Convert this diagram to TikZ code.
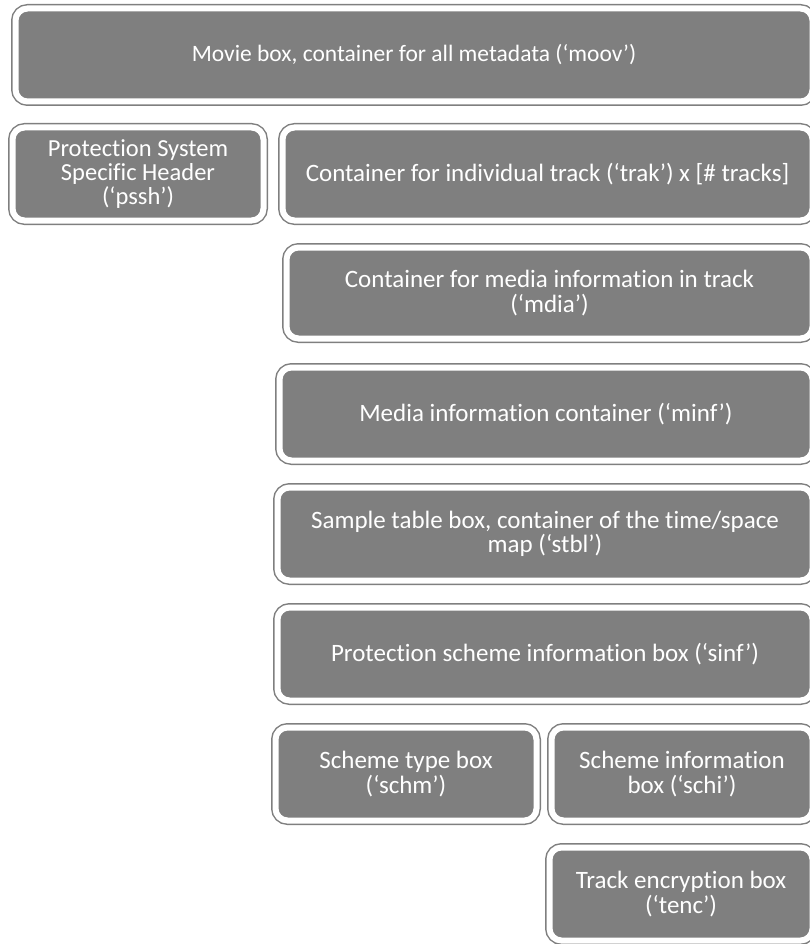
\documentclass[tikz,border=0pt]{standalone}
\usepackage{fontspec}
\setmainfont{Carlito}[Ligatures={NoCommon}]
\usepackage{tikz}
\usetikzlibrary{positioning}
\definecolor{boxgray}{RGB}{127, 127, 127}

\begin{document}
\begin{tikzpicture}[
			x=1pt, y=1pt,
			box/.style={rectangle, fill=boxgray, draw=boxgray, double=white, double distance=6pt, line width=1.5pt, rounded corners=12pt, minimum height=93pt, inner sep=2pt, outer sep=0pt, align=center, text=white, font=\fontsize{25}{24.5}\selectfont}
		]
		\useasboundingbox (0,0) rectangle (810,-944);
		% Movie box
		\node[box, minimum width=797pt, anchor=north west, font=\fontsize{23.5}{24}\selectfont] (moov) at (15.5,-8.5) {Movie box, container for all metadata (‘moov’)};
		
		% Second row
		\node[box, minimum width=251pt, below=26pt of moov.south west, anchor=north west, xshift=-3pt, font=\fontsize{24.5}{24}\selectfont] (pssh) {Protection System\\Specific Header\\(‘pssh’)};
		\node[box, minimum width=530pt, below=26pt of moov.south east, anchor=north east] (trak) {Container for individual track (‘trak’) x [\# tracks]};
		
		% Track hierarchy
		\node[box, minimum width=526pt, minimum height=91pt, below=27pt of trak.south east, anchor=north east] (mdia) {Container for media information in track\\(‘mdia’)};
		\node[box, minimum width=533pt, below=29pt of mdia.south east, anchor=north east] (minf) {Media information container (‘minf’)};
		\node[box, minimum width=535pt, below=27pt of minf.south east, anchor=north east] (stbl) {Sample table box, container of the time/space\\map (‘stbl’)};
		\node[box, minimum width=535pt, below=27pt of stbl.south east, anchor=north east] (sinf) {Protection scheme information box (‘sinf’)};
		
		% Scheme boxes
		\node[box, minimum width=261pt, below=27pt of sinf.south east, anchor=north east] (schi) {Scheme information\\box (‘schi’)};
		\node[box, minimum width=261pt, left=15pt of schi] (schm) {Scheme type box\\(‘schm’)};
		\node[box, minimum width=263pt, below=27pt of schi.south east, anchor=north east] (tenc) {Track encryption box\\(‘tenc’)};
		\end{tikzpicture}
\end{document}
